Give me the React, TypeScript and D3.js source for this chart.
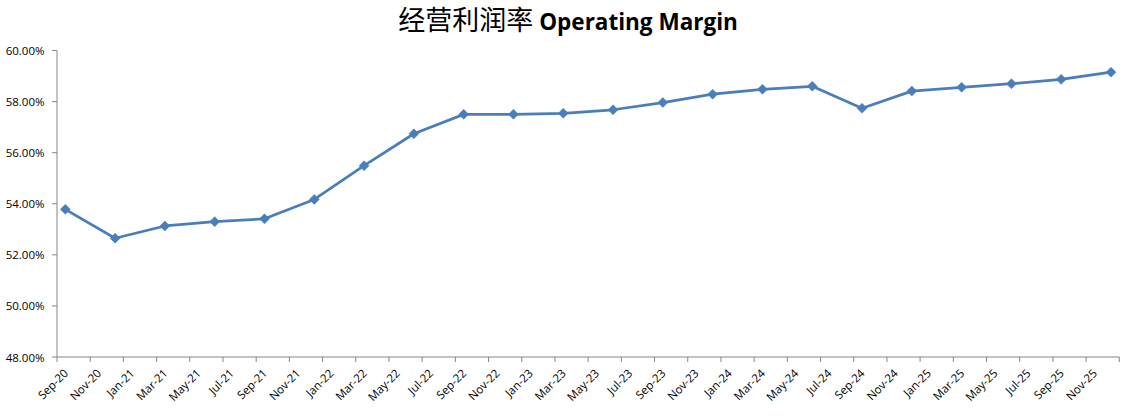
import React from "react";
import * as d3 from "d3";

const TITLE_CN = "经营利润率";
const TITLE_EN = "Operating Margin";

// Quarterly observations (month offsets from Sep-2020)
const months: number[] = [0, 3, 6, 9, 12, 15, 18, 21, 24, 27, 30, 33, 36, 39, 42, 45, 48, 51, 54, 57, 60, 63];
const margins: number[] = [
  53.78, 52.65, 53.13, 53.3, 53.41, 54.17, 55.49, 56.74, 57.5, 57.5, 57.54,
  57.68, 57.96, 58.29, 58.48, 58.6, 57.74, 58.41, 58.56, 58.7, 58.87, 59.15,
];
const tickLabels: string[] = [
  "Sep-20", "Nov-20", "Jan-21", "Mar-21", "May-21", "Jul-21", "Sep-21", "Nov-21",
  "Jan-22", "Mar-22", "May-22", "Jul-22", "Sep-22", "Nov-22", "Jan-23", "Mar-23",
  "May-23", "Jul-23", "Sep-23", "Nov-23", "Jan-24", "Mar-24", "May-24", "Jul-24",
  "Sep-24", "Nov-24", "Jan-25", "Mar-25", "May-25", "Jul-25", "Sep-25", "Nov-25",
];
const yTicks: number[] = [48, 50, 52, 54, 56, 58, 60];

const W = 1145;
const H = 419;
const left = 57;
const right = 1119.3;
const top = 50.5;
const bottom = 357;
const totalMonths = 64;

export default function App() {
  const x = d3.scaleLinear().domain([0, totalMonths]).range([left, right]);
  const y = d3.scaleLinear().domain([48, 60]).range([bottom, top]);
  const pts = months.map((m, i) => [x(m + 0.5), y(margins[i])] as [number, number]);
  const line = d3.line()(pts) || "";
  const axisColor = "#868686";
  const lineColor = "#4A7EBB";
  const tickFont = "'Open Sans', sans-serif";
  const majorTicks = d3.range(0, totalMonths + 1, 2);
  const diamond = (cx: number, cy: number, r: number) =>
    `M${cx},${cy - r}L${cx + r},${cy}L${cx},${cy + r}L${cx - r},${cy}Z`;

  return (
    <svg
      width={W}
      height={H}
      style={{ position: "absolute", left: 0, top: 0, background: "#fff" }}
    >
      <text x={568} y={29.5} textAnchor="middle" fill="#000">
        <tspan fontFamily="'Noto Sans CJK SC', sans-serif" fontSize={27}>{TITLE_CN}</tspan>
        <tspan fontFamily="'Open Sans', sans-serif" fontWeight="bold" fontSize={22.5} dx={6}>{TITLE_EN}</tspan>
      </text>

      {/* y axis */}
      <line x1={left} x2={left} y1={top} y2={bottom} stroke={axisColor} strokeWidth={1} />
      {yTicks.map((t) => (
        <g key={t}>
          <line x1={left - 5} x2={left} y1={y(t)} y2={y(t)} stroke={axisColor} />
          <text
            x={44.5}
            y={y(t) + 4.5}
            textAnchor="end"
            fontFamily={tickFont}
            fontSize={11.5}
            fill="#000"
          >
            {t.toFixed(2) + "%"}
          </text>
        </g>
      ))}

      {/* x axis */}
      <line x1={left} x2={right} y1={bottom} y2={bottom} stroke={axisColor} strokeWidth={1} />
      {majorTicks.map((m) => (
        <line key={m} x1={x(m)} x2={x(m)} y1={bottom} y2={bottom + 5} stroke={axisColor} />
      ))}
      {tickLabels.map((lab, k) => {
        const cx = x(k * 2 + 0.5) + 3.5;
        const cy = bottom + 17;
        return (
          <text
            key={lab}
            x={cx}
            y={cy}
            textAnchor="end"
            fontFamily={tickFont}
            fontSize={11.5}
            fill="#000"
            transform={`rotate(-45 ${cx} ${cy})`}
          >
            {lab}
          </text>
        );
      })}

      <path d={line} fill="none" stroke={lineColor} strokeWidth={2.75} strokeLinejoin="round" />
      {pts.map(([px, py], i) => (
        <path key={i} d={diamond(px, py, 5)} fill={lineColor} stroke={lineColor} strokeWidth={0.5} />
      ))}
    </svg>
  );
}
